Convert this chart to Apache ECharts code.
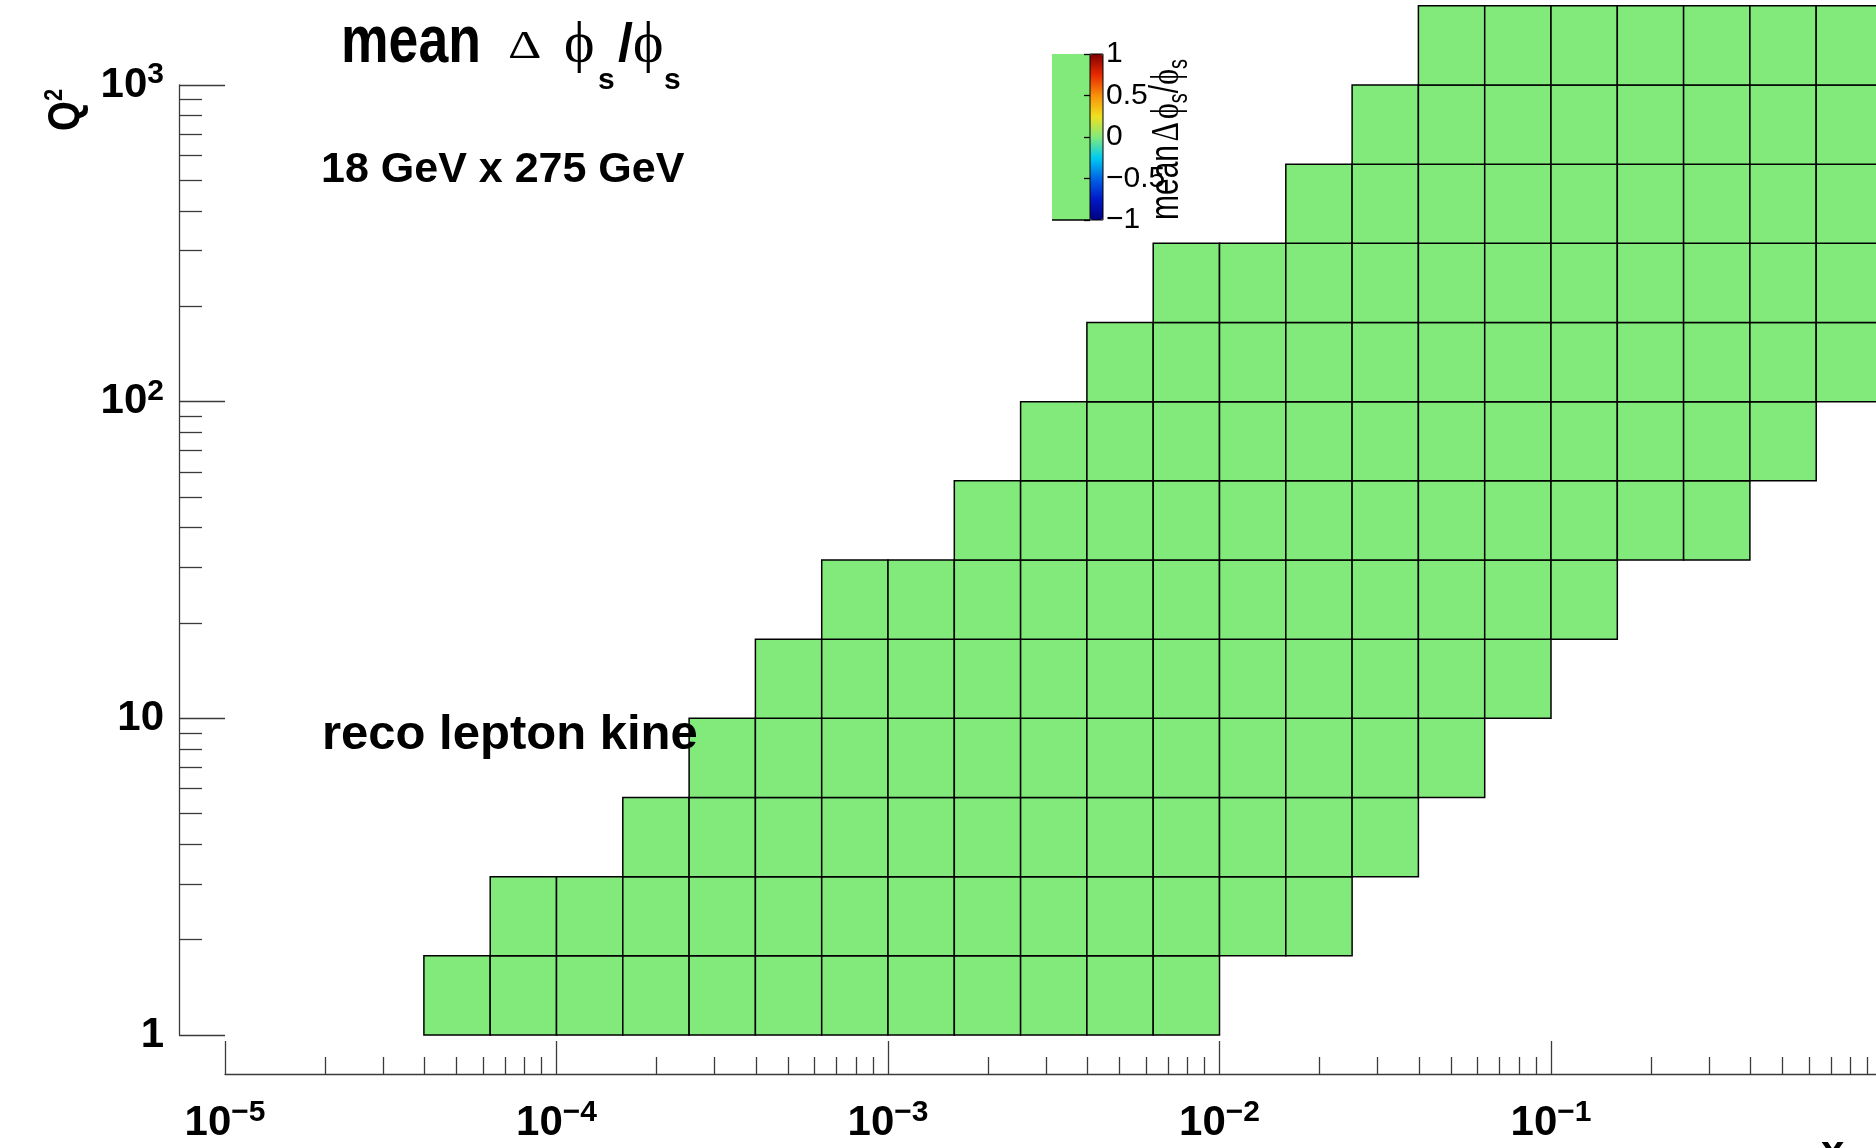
<!DOCTYPE html>
<html>
<head>
<meta charset="utf-8">
<script src="https://cdn.jsdelivr.net/npm/echarts@6/dist/echarts.min.js"></script>
<style>
html,body{margin:0;padding:0;background:#fff;}
#main{width:1876px;height:1148px;}
</style>
</head>
<body>
<div id="main"></div>
<script>
// bin edges: x has 5 bins per decade, Q2 has 4 bins per decade
var xEdges = [3.981e-5, 6.310e-5, 1.0e-4, 1.585e-4, 2.512e-4, 3.981e-4, 6.310e-4, 1.0e-3,
              1.585e-3, 2.512e-3, 3.981e-3, 6.310e-3, 1.0e-2, 1.585e-2, 2.512e-2, 3.981e-2,
              6.310e-2, 0.1, 0.1585, 0.2512, 0.3981, 0.6310, 1.0];
var qEdges = [1, 1.778, 3.162, 5.623, 10, 17.78, 31.62, 56.23, 100, 177.8, 316.2, 562.3, 1000, 1778];

// first filled x bin of every Q2 row (bottom row first)
var rowStart = [0, 1, 3, 4, 5, 6, 8, 9, 10, 11, 13, 14, 15];

// mean delta phi_s / phi_s of each filled bin, row by row
var rowMeans = [
  [0.00, 0.00, 0.00, 0.00, 0.00, 0.00, 0.00, 0.00, 0.00, 0.00, 0.00, 0.00],
  [0.00, 0.00, 0.00, 0.00, 0.00, 0.00, 0.00, 0.00, 0.00, 0.00, 0.00, 0.00, 0.00],
  [0.00, 0.00, 0.00, 0.00, 0.00, 0.00, 0.00, 0.00, 0.00, 0.00, 0.00, 0.00],
  [0.00, 0.00, 0.00, 0.00, 0.00, 0.00, 0.00, 0.00, 0.00, 0.00, 0.00, 0.00],
  [0.00, 0.00, 0.00, 0.00, 0.00, 0.00, 0.00, 0.00, 0.00, 0.00, 0.00, 0.00],
  [0.00, 0.00, 0.00, 0.00, 0.00, 0.00, 0.00, 0.00, 0.00, 0.00, 0.00, 0.00],
  [0.00, 0.00, 0.00, 0.00, 0.00, 0.00, 0.00, 0.00, 0.00, 0.00, 0.00, 0.00],
  [0.00, 0.00, 0.00, 0.00, 0.00, 0.00, 0.00, 0.00, 0.00, 0.00, 0.00, 0.00],
  [0.00, 0.00, 0.00, 0.00, 0.00, 0.00, 0.00, 0.00, 0.00, 0.00, 0.00, 0.00],
  [0.00, 0.00, 0.00, 0.00, 0.00, 0.00, 0.00, 0.00, 0.00, 0.00, 0.00],
  [0.00, 0.00, 0.00, 0.00, 0.00, 0.00, 0.00, 0.00, 0.00],
  [0.00, 0.00, 0.00, 0.00, 0.00, 0.00, 0.00, 0.00],
  [0.00, 0.00, 0.00, 0.00, 0.00, 0.00, 0.00]
];

// axis ticks
var xMajor = [1e-5, 1e-4, 1e-3, 1e-2, 1e-1, 1];
var xLabels = [1e-5, 1e-4, 1e-3, 1e-2, 1e-1];
var qMajor = [1, 10, 100, 1000];

// palette from -1 to 1
var palette = ['#000080', '#0018c8', '#0064e6', '#00ccf0', '#82ea7b', '#f0e020', '#f8900a', '#e82800', '#800000'];

function minorTicks(major) {
    var out = [];
    for (var i = 0; i < major.length - 1; i++) {
        for (var m = 2; m <= 9; m++) out.push(+(major[i] * m).toPrecision(3));
    }
    return out;
}
var xMinor = minorTicks(xMajor);
var qMinor = minorTicks(qMajor);

var cells = [];
for (var r = 0; r < rowMeans.length; r++) {
    for (var k = 0; k < rowMeans[r].length; k++) {
        var c = rowStart[r] + k;
        cells.push([xEdges[c], xEdges[c + 1], qEdges[r], qEdges[r + 1], rowMeans[r][k]]);
    }
}

var FONT = 'Liberation Sans';
var SERIF = 'Liberation Serif';
var axisCol = '#3a3a3a';

var powRich = {
    b: {fontFamily: FONT, fontWeight: 'bold', fontSize: 42, color: '#000', lineHeight: 50},
    s: {fontFamily: FONT, fontWeight: 'bold', fontSize: 30, color: '#000', lineHeight: 14, verticalAlign: 'top'}
};
function powLabel(v) {
    var e = Math.round(Math.log10(v));
    if (e === 0) return '{b|1}';
    if (e === 1) return '{b|10}';
    return '{b|10}{s|' + (e < 0 ? '\u2212' + (-e) : e) + '}';
}
function txt(x, y, s, font, extra) {
    var el = {type: 'text', x: x, y: y, style: {text: s, font: font, fill: '#000', verticalAlign: 'middle'}};
    for (var key in extra) el[key] = extra[key];
    return el;
}

var dom = document.getElementById('main');
var myChart = echarts.init(dom);

var option = {
    animation: false,
    backgroundColor: '#fff',
    grid: [
        {left: 225, right: -6.5, top: 85, bottom: 113, containLabel: false, outerBoundsMode: 'none'},
        {left: 1090, top: 54, width: 13, height: 166, show: true, z: 10, containLabel: false, outerBoundsMode: 'none',
         backgroundColor: 'transparent', borderColor: '#000', borderWidth: 1}
    ],
    xAxis: [
        {type: 'log', gridIndex: 0, min: 1e-5, max: 1, position: 'bottom', offset: 39,
         axisLine: {lineStyle: {color: axisCol, width: 1.3}},
         axisTick: {inside: true, length: 33, customValues: xMajor, lineStyle: {color: axisCol, width: 1.3}},
         axisLabel: {customValues: xLabels, margin: 24, formatter: powLabel, rich: powRich},
         splitLine: {show: false}},
        {type: 'log', gridIndex: 0, min: 1e-5, max: 1, position: 'bottom', offset: 39,
         axisLine: {show: false},
         axisTick: {inside: true, length: 17, customValues: xMinor, lineStyle: {color: axisCol, width: 1.3}},
         axisLabel: {show: false}, splitLine: {show: false}},
        {type: 'value', gridIndex: 1, show: false, min: 0, max: 1}
    ],
    yAxis: [
        {type: 'log', gridIndex: 0, min: 1, max: 1000, position: 'left', offset: 46,
         axisLine: {lineStyle: {color: axisCol, width: 1.3}},
         axisTick: {inside: true, length: 46, customValues: qMajor, lineStyle: {color: axisCol, width: 1.3}},
         axisLabel: {customValues: qMajor, margin: 15, formatter: powLabel, rich: powRich},
         splitLine: {show: false}},
        {type: 'log', gridIndex: 0, min: 1, max: 1000, position: 'left', offset: 46,
         axisLine: {show: false},
         axisTick: {inside: true, length: 23, customValues: qMinor, lineStyle: {color: axisCol, width: 1.3}},
         axisLabel: {show: false}, splitLine: {show: false}},
        {type: 'value', gridIndex: 1, min: -1, max: 1, interval: 0.5, position: 'right', z: 10,
         axisLine: {show: false},
         axisTick: {inside: true, length: 6, lineStyle: {color: '#000', width: 1.3}},
         axisLabel: {margin: 3, fontFamily: FONT, fontSize: 30, color: '#000',
                     formatter: function (v) { return String(v).replace('-', '\u2212'); }},
         splitLine: {show: false}}
    ],
    visualMap: {
        type: 'continuous', seriesIndex: 0, dimension: 4, min: -1, max: 1,
        left: 1090, top: 54, itemWidth: 13, itemHeight: 166, padding: 0,
        calculable: false, hoverLink: false, text: null,
        inRange: {color: palette}
    },
    series: [{
        type: 'custom',
        coordinateSystem: 'cartesian2d',
        xAxisIndex: 0, yAxisIndex: 0,
        data: cells,
        encode: {x: [0, 1], y: [2, 3]},
        renderItem: function (params, api) {
            var p0 = api.coord([api.value(0), api.value(2)]);
            var p1 = api.coord([api.value(1), api.value(3)]);
            return {
                type: 'rect',
                shape: {x: p0[0], y: p1[1], width: p1[0] - p0[0], height: p0[1] - p1[1]},
                style: {fill: api.visual('color'), stroke: '#000', lineWidth: 1.5}
            };
        }
    }],
    graphic: [
        // green box beside the palette
        {type: 'rect', shape: {x: 1052, y: 54, width: 38, height: 166}, style: {fill: '#82ea7b'}, z: 5},
        {type: 'line', shape: {x1: 1052, y1: 220, x2: 1090, y2: 220}, style: {stroke: '#000', lineWidth: 1.5}, z: 5},
        // title
        txt(341, 44, 'mean', 'bold 63px "' + FONT + '"', {scaleX: 0.85, scaleY: 1.05}),
        txt(508, 47, '\u0394', '40px "' + SERIF + '"', {scaleX: 1.3}),
        txt(564, 46, '\u03d5', '58px "' + SERIF + '"'),
        txt(598, 81, 's', 'bold 30px "' + FONT + '"'),
        txt(618, 46, '/', 'bold 54px "' + FONT + '"'),
        txt(633, 46, '\u03d5', '58px "' + SERIF + '"'),
        txt(664, 81, 's', 'bold 30px "' + FONT + '"'),
        txt(321, 170, '18 GeV x 275 GeV', 'bold 43px "' + FONT + '"'),
        txt(322, 735, 'reco lepton kine', 'bold 49px "' + FONT + '"', {z: 20}),
        // axis titles
        {type: 'group', x: 82, y: 131, rotation: Math.PI / 2, scaleY: 1.17, children: [
            txt(0, -13.4, 'Q', 'bold 38.5px "' + FONT + '"'),
            txt(30, -23.5, '2', 'bold 22px "' + FONT + '"')
        ]},
        txt(1821, 1153, 'x', 'bold 42px "' + FONT + '"'),
        // palette axis title
        {type: 'text', x: 1167, y: 220, rotation: Math.PI / 2, scaleY: 1.35, z: 20, style: {
            text: '{m|mean} {g|\u0394} {g|\u03d5}{s|s}{m|/}{g|\u03d5}{s|s}',
            verticalAlign: 'middle',
            rich: {
                m: {fontFamily: FONT, fontSize: 30, color: '#000', lineHeight: 38},
                g: {fontFamily: SERIF, fontSize: 30, color: '#000', lineHeight: 38},
                s: {fontFamily: FONT, fontSize: 20, color: '#000', lineHeight: 2, verticalAlign: 'bottom'}
            }
        }}
    ]
};
myChart.setOption(option, true);
</script>
</body>
</html>
